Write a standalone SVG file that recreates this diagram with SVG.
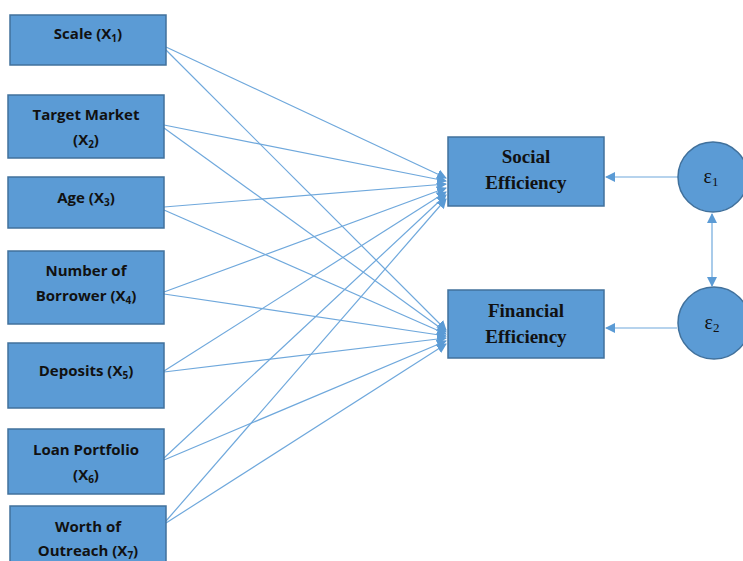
<svg xmlns="http://www.w3.org/2000/svg" width="743" height="561" viewBox="0 0 743 561">
<style>
.box{fill:#5B9BD5;stroke:#41719C;stroke-width:1.5}
.lbl{font-family:"Open Sans","Liberation Sans",sans-serif;font-weight:bold;font-size:15px;fill:#111;text-anchor:middle}
.out{font-family:"Liberation Serif",serif;font-weight:bold;font-size:19px;fill:#111;text-anchor:middle}
.eps{font-family:"Liberation Serif",serif;font-size:20px;fill:#111;text-anchor:middle}
.sub{font-size:10px}
.c{stroke:#6FA8DC;stroke-width:1.2;fill:none;marker-end:url(#ah)}
</style>
<defs>
<marker id="ah" viewBox="0 0 10 10" refX="9" refY="5" markerWidth="10" markerHeight="10" markerUnits="userSpaceOnUse" orient="auto-start-reverse">
<path d="M0,0 L10,5 L0,10 z" fill="#5B9BD5"/>
</marker>
</defs>
<rect width="743" height="561" fill="#fff"/>
<g id="connectors">
<line class="c" x1="166" y1="47" x2="446" y2="178"/>
<line class="c" x1="166" y1="50" x2="446" y2="330"/>
<line class="c" x1="164" y1="125" x2="446" y2="181"/>
<line class="c" x1="164" y1="128" x2="446" y2="332"/>
<line class="c" x1="164" y1="207" x2="446" y2="184"/>
<line class="c" x1="164" y1="210" x2="446" y2="334"/>
<line class="c" x1="164" y1="292" x2="446" y2="188"/>
<line class="c" x1="164" y1="294" x2="446" y2="336"/>
<line class="c" x1="164" y1="371" x2="446" y2="192"/>
<line class="c" x1="164" y1="372" x2="446" y2="338"/>
<line class="c" x1="164" y1="458" x2="446" y2="195"/>
<line class="c" x1="164" y1="460" x2="446" y2="341"/>
<line class="c" x1="166" y1="521" x2="446" y2="199"/>
<line class="c" x1="166" y1="523" x2="446" y2="344"/>
<line class="c" x1="678" y1="177" x2="606" y2="177"/>
<line class="c" x1="677" y1="328" x2="606" y2="328"/>
<line class="c" x1="712" y1="214" x2="712" y2="286" style="marker-start:url(#ah)"/>
</g>
<g id="n1"><rect class="box" x="10" y="15" width="156" height="50"/><text class="lbl" x="88" y="39">Scale (X<tspan class="sub" dy="3">1</tspan><tspan dy="-3">)</tspan></text></g>
<g id="n2"><rect class="box" x="8" y="95" width="156" height="63"/><text class="lbl" x="86" y="120">Target Market</text><text class="lbl" x="86" y="145">(X<tspan class="sub" dy="3">2</tspan><tspan dy="-3">)</tspan></text></g>
<g id="n3"><rect class="box" x="8" y="177" width="156" height="51"/><text class="lbl" x="86" y="203">Age (X<tspan class="sub" dy="3">3</tspan><tspan dy="-3">)</tspan></text></g>
<g id="n4"><rect class="box" x="8" y="251" width="156" height="73"/><text class="lbl" x="86" y="276">Number of</text><text class="lbl" x="86" y="301">Borrower (X<tspan class="sub" dy="3">4</tspan><tspan dy="-3">)</tspan></text></g>
<g id="n5"><rect class="box" x="8" y="343" width="156" height="65"/><text class="lbl" x="86" y="376">Deposits (X<tspan class="sub" dy="3">5</tspan><tspan dy="-3">)</tspan></text></g>
<g id="n6"><rect class="box" x="8" y="429" width="156" height="65"/><text class="lbl" x="86" y="455">Loan Portfolio</text><text class="lbl" x="86" y="480">(X<tspan class="sub" dy="3">6</tspan><tspan dy="-3">)</tspan></text></g>
<g id="n7"><rect class="box" x="10" y="506" width="156" height="62"/><text class="lbl" x="88" y="532">Worth of</text><text class="lbl" x="88" y="556">Outreach (X<tspan class="sub" dy="3">7</tspan><tspan dy="-3">)</tspan></text></g>
<g id="social"><rect class="box" x="448" y="137" width="156" height="69"/><text class="out" x="526" y="163">Social</text><text class="out" x="526" y="189">Efficiency</text></g>
<g id="financial"><rect class="box" x="448" y="290" width="156" height="68"/><text class="out" x="526" y="317">Financial</text><text class="out" x="526" y="343">Efficiency</text></g>
<g id="e1"><circle class="box" cx="713" cy="177" r="35"/><text class="eps" x="711" y="183">ε<tspan style="font-size:13px" dy="3">1</tspan></text></g>
<g id="e2"><circle class="box" cx="714" cy="323" r="36"/><text class="eps" x="712" y="329">ε<tspan style="font-size:13px" dy="3">2</tspan></text></g>
</svg>
